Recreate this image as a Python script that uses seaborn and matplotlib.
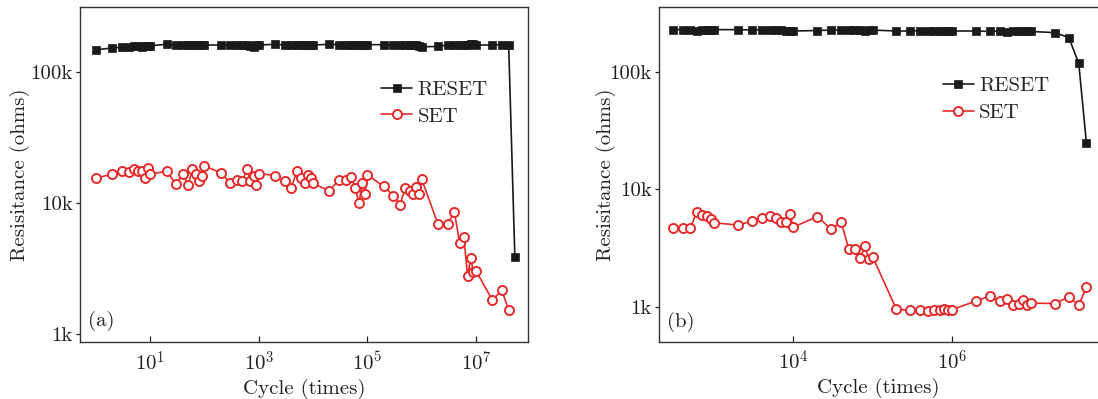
import matplotlib
matplotlib.use("Agg")
import matplotlib.pyplot as plt
import seaborn as sns
from matplotlib.ticker import NullLocator

# panel (a): cycles and resistances (ohms)
cycles_a = [1, 2, 3, 4, 5, 6, 7, 8, 9, 10,
            20, 30, 40, 50, 60, 70, 80, 90, 100,
            200, 300, 400, 500, 600, 700, 800, 900, 1e3,
            2e3, 3e3, 4e3, 5e3, 6e3, 7e3, 8e3, 9e3, 1e4,
            2e4, 3e4, 4e4, 5e4, 6e4, 7e4, 8e4, 9e4, 1e5,
            2e5, 3e5, 4e5, 5e5, 6e5, 7e5, 8e5, 9e5, 1e6,
            2e6, 3e6, 4e6, 5e6, 6e6, 7e6, 8e6, 9e6, 1e7,
            2e7, 3e7, 4e7]
reset_cycles_a = cycles_a + [5.2e7]
reset_a = [147e3, 152e3, 154e3, 155e3, 157e3, 156e3, 155e3, 156e3, 157e3, 158e3,
           162e3, 160e3, 160e3, 160e3, 160e3, 160e3, 160e3, 160e3, 160e3,
           160e3, 159e3, 160e3, 159e3, 160e3, 158e3, 155e3, 159e3, 160e3,
           162e3, 160e3, 160e3, 160e3, 160e3, 160e3, 160e3, 160e3, 160e3,
           162e3, 161e3, 161e3, 161e3, 161e3, 161e3, 161e3, 161e3, 161e3,
           161e3, 161e3, 160e3, 160e3, 160e3, 160e3, 160e3, 158e3, 155e3,
           156e3, 160e3, 160e3, 160e3, 160e3, 160e3, 162e3, 164e3, 160e3,
           160e3, 161e3, 161e3, 3.88e3]
set_a = [15.5e3, 16.6e3, 17.5e3, 17.1e3, 18.3e3, 17.7e3, 17.7e3, 15.4e3, 18.6e3, 16.6e3,
         17.5e3, 13.9e3, 16.7e3, 13.7e3, 18.1e3, 16.7e3, 14.7e3, 16.2e3, 19.2e3,
         17.0e3, 14.2e3, 15.1e3, 14.7e3, 18.1e3, 14.7e3, 16.0e3, 13.7e3, 16.8e3,
         16.2e3, 14.8e3, 13.1e3, 17.5e3, 15.6e3, 14.1e3, 16.4e3, 15.5e3, 14.1e3,
         12.4e3, 15.1e3, 15.1e3, 15.8e3, 13.0e3, 10.0e3, 14.1e3, 11.8e3, 16.4e3,
         13.4e3, 11.4e3, 9.7e3, 13.1e3, 12.4e3, 11.8e3, 13.2e3, 11.8e3, 15.2e3,
         6.9e3, 6.9e3, 8.55e3, 5.0e3, 5.5e3, 2.77e3, 3.8e3, 2.98e3, 3.05e3,
         1.83e3, 2.16e3, 1.54e3]

# panel (b)
cycles_b = [300, 400, 500, 600, 700, 800, 900, 1e3,
            2e3, 3e3, 4e3, 5e3, 6e3, 7e3, 8e3, 9e3, 1e4,
            2e4, 3e4, 4e4, 5e4, 6e4, 7e4, 8e4, 9e4, 1e5,
            2e5, 3e5, 4e5, 5e5, 6e5, 7e5, 8e5, 9e5, 1e6,
            2e6, 3e6, 4e6, 5e6, 6e6, 7e6, 8e6, 9e6, 1e7,
            2e7, 3e7, 4e7, 5e7]
reset_b = [228e3, 228e3, 228e3, 222e3, 226e3, 228e3, 228e3, 228e3,
           228e3, 226e3, 228e3, 228e3, 228e3, 226e3, 222e3, 222e3, 222e3,
           224e3, 226e3, 226e3, 228e3, 228e3, 228e3, 220e3, 226e3, 226e3,
           222e3, 222e3, 224e3, 224e3, 224e3, 224e3, 224e3, 222e3, 222e3,
           222e3, 220e3, 222e3, 218e3, 222e3, 222e3, 222e3, 222e3, 220e3,
           215e3, 195e3, 118e3, 24.8e3]
set_b = [4.65e3, 4.65e3, 4.65e3, 6.45e3, 6.04e3, 5.9e3, 5.58e3, 5.2e3,
         4.97e3, 5.37e3, 5.75e3, 5.98e3, 5.69e3, 5.32e3, 5.32e3, 6.15e3, 4.78e3,
         5.87e3, 4.59e3, 5.29e3, 3.12e3, 3.12e3, 2.63e3, 3.27e3, 2.55e3, 2.67e3,
         955, 937, 937, 918, 937, 950, 968, 950, 950,
         1.12e3, 1.24e3, 1.12e3, 1.16e3, 1.05e3, 1.07e3, 1.14e3, 1.03e3, 1.08e3,
         1.07e3, 1.22e3, 1.03e3, 1.48e3]

y_ticks = [1e3, 1e4, 1e5]
y_ticklabels = ["1k", "10k", "100k"]
x_ticks_a = [10, 1e3, 1e5, 1e7]
x_ticks_b = [1e4, 1e6]

sns.set_theme(style="ticks")
plt.rcParams["font.family"] = ["cmr10", "DejaVu Serif"]
plt.rcParams["mathtext.fontset"] = "cm"
plt.rcParams["axes.formatter.use_mathtext"] = True
plt.rcParams["axes.unicode_minus"] = False

black = "#1a1a1a"
red = "#e62a2a"
fs = 15

fig = plt.figure(figsize=(10.98, 3.99), dpi=100)
W, H = 1098.0, 399.0
ax_a = fig.add_axes([80 / W, (H - 342.3) / H, (528.3 - 80) / W, (342.3 - 7.3) / H])
ax_b = fig.add_axes([659 / W, (H - 341.7) / H, (W - 659) / W, (341.7 - 7.3) / H])


def draw(ax, xr, yr, xs, ys, ylabelpad):
    sns.lineplot(x=xr, y=yr, ax=ax, color=black, marker="s", markersize=5.2,
                 markerfacecolor=black, markeredgecolor=black, markeredgewidth=0.5,
                 linewidth=1.2, estimator=None, sort=False, label="RESET")
    sns.lineplot(x=xs, y=ys, ax=ax, color=red, marker="o", markersize=6.5,
                 markerfacecolor="white", markeredgecolor=red, markeredgewidth=1.4,
                 linewidth=1.2, estimator=None, sort=False, label="SET")
    ax.set_xscale("log")
    ax.set_yscale("log")
    ax.set_yticks(y_ticks)
    ax.set_yticklabels(y_ticklabels, fontsize=fs)
    ax.xaxis.set_minor_locator(NullLocator())
    ax.yaxis.set_minor_locator(NullLocator())
    ax.tick_params(axis="x", direction="in", length=4, width=0.9, pad=6, colors="#222222")
    ax.tick_params(axis="y", direction="out", length=3, width=0.9, pad=2, colors="#222222")
    for s in ax.spines.values():
        s.set_linewidth(1.0)
        s.set_color("#333333")
    ax.set_xlabel("Cycle (times)", fontsize=fs, color="#222222", labelpad=3)
    ax.set_ylabel("Resisitance (ohms)", fontsize=fs, color="#222222", labelpad=ylabelpad)


draw(ax_a, reset_cycles_a, reset_a, cycles_a, set_a, 0.5)
ax_a.set_xlim(0.51, 9.2e7)
ax_a.set_ylim(870, 3.1e5)
ax_a.set_xticks(x_ticks_a)
ax_a.set_xticklabels([r"$10^{1}$", r"$10^{3}$", r"$10^{5}$", r"$10^{7}$"], fontsize=fs)
ax_a.legend(loc="upper left", bbox_to_anchor=(0.653, 0.807), frameon=False, fontsize=fs,
            handlelength=1.5, handletextpad=0.25, labelspacing=0.4, borderaxespad=0)
ax_a.text(0.017, 0.065, "(a)", transform=ax_a.transAxes, fontsize=fs, va="center",
          color="#222222")

draw(ax_b, cycles_b, reset_b, cycles_b, set_b, -4.5)
ax_b.set_xlim(201, 7.0e7)
ax_b.set_ylim(507, 3.53e5)
ax_b.set_xticks(x_ticks_b)
ax_b.set_xticklabels([r"$10^{4}$", r"$10^{6}$"], fontsize=fs)
ax_b.spines["right"].set_visible(False)
ax_b.legend(loc="upper left", bbox_to_anchor=(0.627, 0.817), frameon=False, fontsize=fs,
            handlelength=1.5, handletextpad=0.25, labelspacing=0.4, borderaxespad=0)
ax_b.text(0.018, 0.06, "(b)", transform=ax_b.transAxes, fontsize=fs, va="center",
          color="#222222")

fig.savefig("out.png", dpi=100)
